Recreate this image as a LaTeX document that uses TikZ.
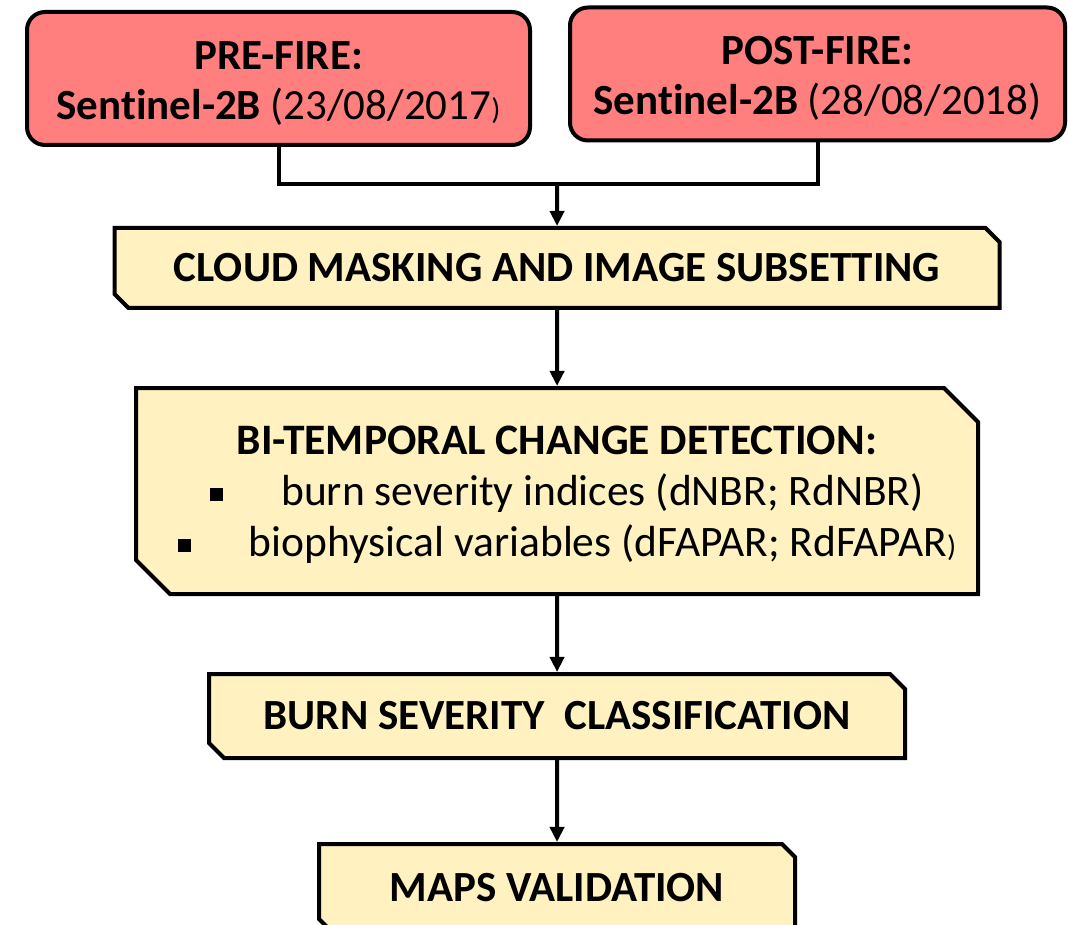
\documentclass[tikz,border=0pt]{standalone}
\usepackage{fontspec}
\setmainfont{Carlito}[Ligatures=NoCommon]
\usetikzlibrary{arrows.meta}
\usetikzlibrary{positioning}
\usetikzlibrary{shapes}

\definecolor{firered}{HTML}{FF7F7F}
\definecolor{stepyellow}{HTML}{FFF2C0}
\newcommand{\sqbullet}{\hspace*{20pt}\rule[5pt]{13pt}{13pt}}

\begin{document}
\begin{tikzpicture}[x=1pt, y=1pt, node distance = 76pt and 36pt,
  acquisition/.style={
    % The shape:
    rectangle, rounded corners=18pt,
    % The size:
    minimum width=503pt, minimum height=133pt,
    % The border:
    line width=4pt, draw=black,
    % The filling:
    fill=firered,
    % Font
    font=\fontsize{43}{50}\selectfont,
    align=center % required if you use new line
  },
  processing/.style={
    % The shape:
    chamfered rectangle,
    chamfered rectangle corners={north east, south west},
    chamfered rectangle sep=7pt,
    % The border:
    line width=4pt, draw=black,
    % The filling:
    fill=stepyellow,
    % Font
    font=\fontsize{43}{50}\selectfont\bfseries,
    align=center
  },
  >={Triangle[length=15pt,width=14pt]}, line width=4pt, black, text=black]

  \useasboundingbox (0,0) rectangle (1068,-925);

  \node (pre) [acquisition] at (278.5,-78.5)
    {\rule{0pt}{37pt}\textbf{PRE-FIRE:}\\ \textbf{Sentinel-2B} (23/08/2017{\fontsize{30}{30}\selectfont)}};
  \node (post) [acquisition, right = of pre, yshift=4.5pt, minimum width=495pt]
    {\rule{0pt}{37pt}\textbf{POST-FIRE:}\\ \textbf{Sentinel-2B} (28/08/2018)};

  \coordinate (split) at (557,-184);
  \draw (pre.south) |- (split);
  \draw (post.south) |- (split);

  \node (cloud) [processing, below = 42pt of split, minimum width=885pt, minimum height=80pt]
    {CLOUD MASKING AND IMAGE SUBSETTING};
  \draw[->] (split) -- (cloud);

  \node (bitemp) [processing, below = of cloud, minimum width=842pt, minimum height=206pt,
    chamfered rectangle sep=17pt, font=\fontsize{43.5}{51}\selectfont]
    {\rule{0pt}{37pt}\textbf{BI-TEMPORAL CHANGE DETECTION:}\\
     \sqbullet\hspace{58pt}burn severity indices (dNBR; RdNBR)\\
     \sqbullet\hspace{58pt}biophysical variables (dFAPAR; RdFAPAR{\fontsize{30}{30}\selectfont)}};
  \draw[->] (cloud) -- (bitemp);

  \node (classif) [processing, below = of bitemp, minimum width=696pt, minimum height=84pt,
    chamfered rectangle sep=7.5pt]
    {BURN SEVERITY\ \ CLASSIFICATION};
  \draw[->] (bitemp) -- (classif);

  \node (valid) [processing, below = 82pt of classif, minimum width=476pt, minimum height=88pt,
    chamfered rectangle sep=6.5pt]
    {MAPS VALIDATION};
  \draw[->] (classif) -- (valid);
\end{tikzpicture}
\end{document}
